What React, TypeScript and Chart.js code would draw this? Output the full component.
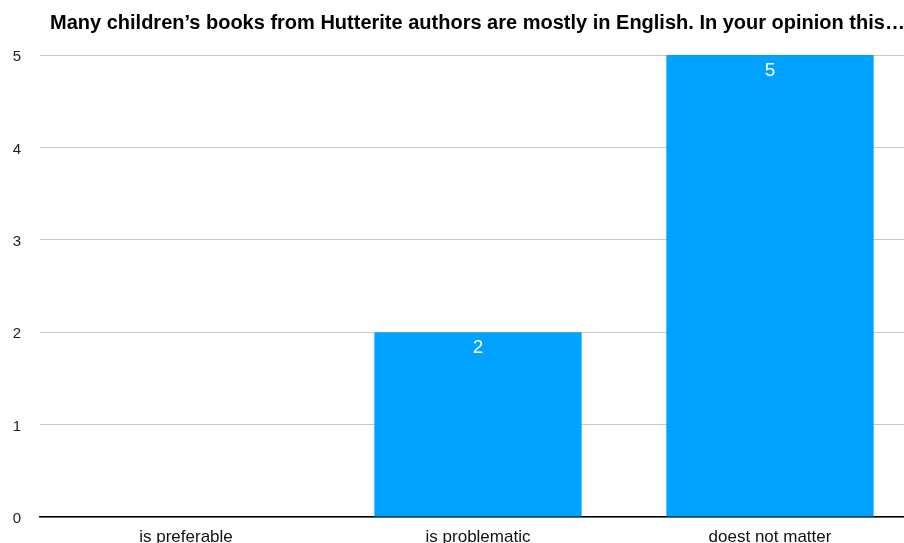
import React, { useEffect, useRef } from "react";
import { Chart, registerables } from "chart.js";

Chart.register(...registerables);

const TITLE = "Many children’s books from Hutterite authors are mostly in English. In your opinion this…";
const categories = ["is preferable", "is problematic", "doest not matter"];
const counts = [0, 2, 5];
const yTicks = [0, 1, 2, 3, 4, 5];

const FONT = "'Liberation Sans', Arial, Helvetica, sans-serif";

const titlePlugin = {
  id: "customTitle",
  afterDraw(chart: any) {
    const ctx = chart.ctx;
    ctx.save();
    ctx.font = `bold 20px ${FONT}`;
    ctx.fillStyle = "#000";
    ctx.textAlign = "left";
    ctx.textBaseline = "middle";
    ctx.fillText(TITLE, 50, 23);
    ctx.restore();
  },
};

const valueLabels = {
  id: "valueLabels",
  afterDatasetsDraw(chart: any) {
    const ctx = chart.ctx;
    const meta = chart.getDatasetMeta(0);
    ctx.save();
    ctx.font = `19px ${FONT}`;
    ctx.fillStyle = "#fff";
    ctx.textAlign = "center";
    ctx.textBaseline = "middle";
    meta.data.forEach((bar: any, i: number) => {
      const v = counts[i];
      if (!v) return;
      ctx.fillText(String(v), bar.x, bar.y + 16);
    });
    ctx.restore();
  },
};

export default function App() {
  const ref = useRef<HTMLCanvasElement>(null);
  useEffect(() => {
    if (!ref.current) return;
    const chart = new Chart(ref.current, {
      type: "bar",
      data: {
        labels: categories,
        datasets: [
          {
            data: counts,
            backgroundColor: "#00A2FF",
            borderWidth: 0,
            barPercentage: 0.71,
            categoryPercentage: 1,
          },
        ],
      },
      options: {
        responsive: false,
        animation: false,
        layout: { padding: { top: 55, left: 0, right: 0, bottom: 0 } },
        plugins: {
          legend: { display: false },
          title: { display: false },
          tooltip: { enabled: false },
        },
        scales: {
          x: {
            grid: { display: false, drawTicks: false },
            border: { display: true, color: "#000", width: 1.5 },
            ticks: {
              color: "#111",
              font: { family: FONT, size: 17 },
              padding: 10,
              maxRotation: 0,
            },
            afterFit(s: any) {
              s.height = 53;
            },
          },
          y: {
            min: 0,
            max: 5,
            afterBuildTicks(s: any) {
              s.ticks = yTicks.map((v) => ({ value: v }));
            },
            grid: { color: "#c8c8c8", lineWidth: 1, drawTicks: false },
            border: { display: false },
            ticks: {
              color: "#222",
              font: { family: FONT, size: 15 },
              padding: 19,
              labelOffset: 2,
            },
            afterFit(s: any) {
              s.width = 40;
            },
          },
        },
      },
      plugins: [titlePlugin, valueLabels],
    } as any);
    return () => chart.destroy();
  }, []);
  return (
    <div
      style={{
        position: "fixed",
        left: 0,
        top: 0,
        width: 904,
        height: 543,
        overflow: "hidden",
        background: "#fff",
      }}
    >
      <canvas ref={ref} width={916} height={570} style={{ display: "block" }} />
    </div>
  );
}
